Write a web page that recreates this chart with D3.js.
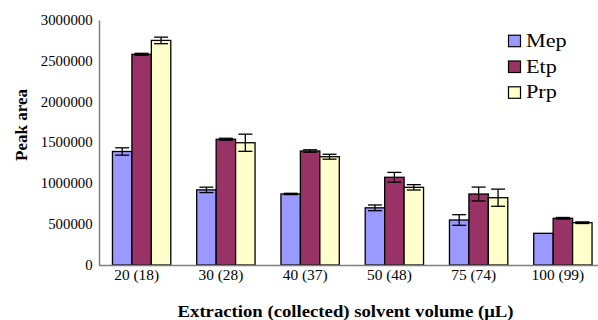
<!DOCTYPE html>
<html>
<head>
<meta charset="utf-8">
<script src="https://cdn.jsdelivr.net/npm/d3@7"></script>
<style>
  html, body { margin: 0; padding: 0; background: #fff; }
  svg { display: block; }
</style>
</head>
<body>
<script>
// ---- data ----
const categories = ["20 (18)", "30 (28)", "40 (37)", "50 (48)", "75 (74)", "100 (99)"];
const seriesNames = ["Mep", "Etp", "Prp"];
const mepValues = [1390000, 920000, 870000, 700000, 551000, 388000];
const etpValues = [2580000, 1540000, 1396000, 1074000, 869000, 572000];
const prpValues = [2750000, 1497000, 1326000, 951000, 824000, 518000];
const mepErrors = [45000, 33000, 8000, 35000, 65000, 0];
const etpErrors = [12000, 12000, 15000, 60000, 85000, 10000];
const prpErrors = [40000, 105000, 30000, 33000, 105000, 10000];
const yTickValues = [0, 500000, 1000000, 1500000, 2000000, 2500000, 3000000];
const seriesColors = ["#9999FF", "#993366", "#FFFFCC"];
const xTitle = "Extraction (collected) solvent volume (\u03BCL)";
const yTitle = "Peak area";

const FONT = '"Liberation Serif", "Times New Roman", serif';
const values = [mepValues, etpValues, prpValues];
const errors = [mepErrors, etpErrors, prpErrors];

const W = 598, H = 320;
const svg = d3.select("body").append("svg").attr("width", W).attr("height", H);

const x = d3.scaleBand().domain(categories).range([99.5, 605]).paddingInner(0.3076).paddingOuter(0.1538);
const xs = d3.scaleBand().domain(seriesNames).range([0, x.bandwidth()]);
const y = d3.scaleLinear().domain([0, 3000000]).range([265, 20]);
const color = d3.scaleOrdinal().domain(seriesNames).range(seriesColors);

const x0 = x.range()[0] - 0.5;

// y axis
const gy = svg.append("g").attr("transform", `translate(${x0},0)`)
  .call(d3.axisLeft(y).tickValues(yTickValues).tickSize(0).tickPadding(6).tickFormat(d3.format("d")));
gy.select(".domain").attr("stroke", "#7f7f7f").attr("stroke-width", 1.5);
gy.selectAll("text").style("font-family", FONT).style("font-size", "14px").attr("fill", "#000")
  .attr("transform", "scale(1.06,1)");

// bars
const data = [];
categories.forEach((c, i) => seriesNames.forEach((s, j) => {
  data.push({ cat: c, s, v: values[j][i], e: errors[j][i] });
}));

svg.append("g").selectAll("rect").data(data).join("rect")
  .attr("x", d => x(d.cat) + xs(d.s))
  .attr("y", d => y(d.v))
  .attr("width", xs.bandwidth())
  .attr("height", d => y(0) - y(d.v))
  .attr("fill", d => color(d.s))
  .attr("stroke", "#000")
  .attr("stroke-width", 1.3);

// x axis
const gx = svg.append("g").attr("transform", `translate(0,${y(0)})`)
  .call(d3.axisBottom(x).tickSize(0).tickPadding(5));
gx.select(".domain").attr("stroke", "#7f7f7f").attr("stroke-width", 1.5)
  .attr("d", `M${x0},0.5H605`);
gx.selectAll(".tick text").style("font-family", FONT).style("font-size", "14px").attr("fill", "#000")
  .attr("transform", "translate(-5,0) scale(1.1,1)");

// error bars
const capW = 14;
const eg = svg.append("g").attr("stroke", "#000").attr("stroke-width", 1.3).attr("fill", "none");
data.filter(d => d.e > 0).forEach(d => {
  const cx = x(d.cat) + xs(d.s) + xs.bandwidth() / 2;
  const yt = y(d.v + d.e), yb = y(d.v - d.e);
  eg.append("line").attr("x1", cx).attr("x2", cx).attr("y1", yt).attr("y2", yb);
  eg.append("line").attr("x1", cx - capW / 2).attr("x2", cx + capW / 2).attr("y1", yt).attr("y2", yt);
  eg.append("line").attr("x1", cx - capW / 2).attr("x2", cx + capW / 2).attr("y1", yb).attr("y2", yb);
});

// legend
const lg = svg.append("g");
seriesNames.forEach((s, i) => {
  const by = 46.7 + i * 25.8;
  lg.append("rect").attr("x", 508.5).attr("y", by - 11.5).attr("width", 12).attr("height", 11.5)
    .attr("fill", color(s)).attr("stroke", "#000").attr("stroke-width", 1.2);
  lg.append("text").attr("transform", `translate(526,${by}) scale(1.2,1)`)
    .style("font-family", FONT).style("font-size", "18.5px").attr("fill", "#000").text(s);
});

// titles
svg.append("text").attr("transform", "translate(345.5,316.5) scale(1.17,1)")
  .attr("text-anchor", "middle").style("font-family", FONT).style("font-size", "16px")
  .style("font-weight", "bold").attr("fill", "#000").text(xTitle);
svg.append("text").attr("transform", "translate(26.5,125) rotate(-90)")
  .attr("text-anchor", "middle").style("font-family", FONT).style("font-size", "17px")
  .style("font-weight", "bold").attr("fill", "#000").text(yTitle);
</script>
</body>
</html>
